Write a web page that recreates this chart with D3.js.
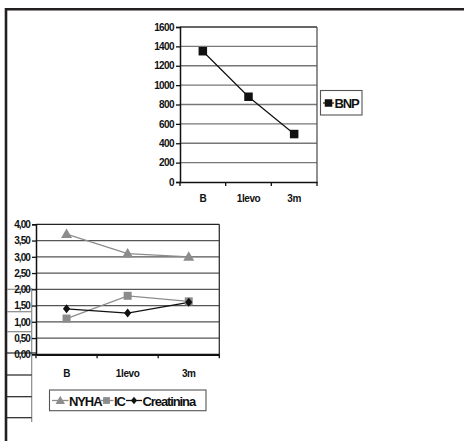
<!DOCTYPE html>
<html>
<head>
<meta charset="utf-8">
<script src="https://cdn.jsdelivr.net/npm/d3@7"></script>
<style>
  html, body { margin: 0; padding: 0; background: #fff; }
  svg { display: block; }
  text { font-family: "Liberation Sans Narrow", "Arial Narrow", "Liberation Sans", Arial, sans-serif; font-weight: bold; fill: #111; }
</style>
</head>
<body>
<svg id="chart" width="464" height="441"></svg>
<script>
// ---- data ----
const categories = ["B", "1levo", "3m"];

const bnpValues = [1350, 880, 495];
const bnpTicks = [0, 200, 400, 600, 800, 1000, 1200, 1400, 1600];

const nyhaValues = [3.70, 3.10, 3.00];
const icValues = [1.10, 1.80, 1.63];
const creatininaValues = [1.40, 1.27, 1.60];
const scoreTicks = [0, 0.5, 1, 1.5, 2, 2.5, 3, 3.5, 4];

const svg = d3.select("#chart");

// ---- outer frame (top and left edges) ----
svg.append("path")
  .attr("d", "M6,441V9.2H464")
  .attr("fill", "none").attr("stroke", "#231f20").attr("stroke-width", 2.6);

// ---- table cells left of the lower chart ----
const cellRows = [289.3, 311.7, 331.7, 353, 375, 396.7, 417.7];
const cells = svg.append("g");
cells.append("line").attr("x1", 31.7).attr("x2", 31.7).attr("y1", 288).attr("y2", 422)
  .attr("stroke", "#8a8a8a").attr("stroke-width", 1.2);
cellRows.forEach((y, i) => {
  cells.append("line")
    .attr("x1", 7).attr("x2", (i === 0 || i === 3) ? 36 : 31.7)
    .attr("y1", y).attr("y2", y)
    .attr("stroke", i < 3 ? "#8a8a8a" : "#222").attr("stroke-width", 1.2);
});

// helper to draw marker shapes
function marker(g, type, cx, cy, color, size) {
  if (type === "square") {
    g.append("rect").attr("x", cx - size / 2).attr("y", cy - size / 2)
      .attr("width", size).attr("height", size).attr("fill", color);
  } else if (type === "triangle") {
    g.append("path")
      .attr("d", `M${cx},${cy - size * 0.55}L${cx + size * 0.55},${cy + size * 0.4}L${cx - size * 0.55},${cy + size * 0.4}Z`)
      .attr("fill", color);
  } else if (type === "diamond") {
    g.append("path")
      .attr("d", `M${cx},${cy - size / 2}L${cx + size * 0.4},${cy}L${cx},${cy + size / 2}L${cx - size * 0.4},${cy}Z`)
      .attr("fill", color);
  }
}

// ---- upper chart: BNP ----
{
  const left = 180, right = 317, top = 27, bottom = 182;
  const x = d3.scaleBand().domain(categories).range([left, right]).padding(0);
  const y = d3.scaleLinear().domain([0, 1600]).range([bottom, top]);
  const g = svg.append("g");

  // gridlines
  g.selectAll("line.grid").data(bnpTicks.filter(t => t > 0)).join("line")
    .attr("x1", left).attr("x2", right)
    .attr("y1", d => y(d)).attr("y2", d => y(d))
    .attr("stroke", d => d === 1600 ? "#333" : "#777").attr("stroke-width", 1.3);
  g.append("line").attr("x1", right).attr("x2", right).attr("y1", top).attr("y2", bottom)
    .attr("stroke", "#555").attr("stroke-width", 1.3);

  // y axis
  const ya = g.append("g").attr("transform", `translate(${left},0)`)
    .call(d3.axisLeft(y).tickValues(bnpTicks).tickSize(4).tickPadding(2).tickFormat(d3.format("d")));
  ya.select(".domain").attr("stroke", "#111").attr("stroke-width", 1.5);
  ya.selectAll(".tick line").attr("stroke", "#111").attr("stroke-width", 1.3);
  ya.selectAll("text").attr("font-size", 10).attr("letter-spacing", -0.6).attr("fill", "#111");

  // x axis
  const xa = g.append("g").attr("transform", `translate(0,${bottom})`)
    .call(d3.axisBottom(x).tickSize(0).tickPadding(13));
  xa.select(".domain").attr("stroke", "#111").attr("stroke-width", 1.5);
  xa.selectAll("text").attr("font-size", 10).attr("letter-spacing", -0.4).attr("fill", "#111");
  const bounds = [left, ...categories.map(c => x(c) + x.bandwidth())];
  g.selectAll("line.xt").data(bounds).join("line")
    .attr("x1", d => d).attr("x2", d => d).attr("y1", bottom).attr("y2", bottom + 4)
    .attr("stroke", "#111").attr("stroke-width", 1.3);

  // series
  const cx = c => x(c) + x.bandwidth() / 2;
  g.append("path")
    .attr("d", d3.line().x((d, i) => cx(categories[i])).y(d => y(d))(bnpValues))
    .attr("fill", "none").attr("stroke", "#111").attr("stroke-width", 1.2);
  bnpValues.forEach((v, i) => marker(g, "square", cx(categories[i]), y(v), "#111", 8.5));

  // legend
  const lg = svg.append("g");
  lg.append("rect").attr("x", 320.5).attr("y", 90.5).attr("width", 41.5).attr("height", 24.5)
    .attr("fill", "#fff").attr("stroke", "#555").attr("stroke-width", 1.1);
  lg.append("line").attr("x1", 323).attr("x2", 334).attr("y1", 103).attr("y2", 103)
    .attr("stroke", "#111").attr("stroke-width", 1.2);
  marker(lg, "square", 328.5, 103, "#111", 7.5);
  lg.append("text").attr("x", 334.5).attr("y", 107.5).attr("font-size", 13)
    .attr("letter-spacing", -1.1).text("BNP");
}

// ---- lower chart: NYHA, IC, Creatinina ----
{
  const left = 36, right = 219.3, top = 224.3, bottom = 354.3;
  const x = d3.scaleBand().domain(categories).range([left, right]).padding(0);
  const y = d3.scaleLinear().domain([0, 4]).range([bottom, top]);
  const g = svg.append("g");

  g.selectAll("line.grid").data(scoreTicks.filter(t => t > 0)).join("line")
    .attr("x1", left).attr("x2", right)
    .attr("y1", d => y(d)).attr("y2", d => y(d))
    .attr("stroke", d => d === 4 ? "#222" : "#555").attr("stroke-width", 1.3);
  g.append("line").attr("x1", right).attr("x2", right).attr("y1", top).attr("y2", bottom)
    .attr("stroke", "#333").attr("stroke-width", 1.3);

  const fmt = v => d3.format(".2f")(v).replace(".", ",");
  const ya = g.append("g").attr("transform", `translate(${left},0)`)
    .call(d3.axisLeft(y).tickValues(scoreTicks).tickSize(4).tickPadding(2).tickFormat(fmt));
  ya.select(".domain").attr("stroke", "#111").attr("stroke-width", 1.5);
  ya.selectAll(".tick line").attr("stroke", "#111").attr("stroke-width", 1.3);
  ya.selectAll("text").attr("font-size", 10).attr("letter-spacing", -0.9).attr("fill", "#111");

  const xa = g.append("g").attr("transform", `translate(0,${bottom})`)
    .call(d3.axisBottom(x).tickSize(0).tickPadding(16));
  xa.select(".domain").attr("stroke", "#111").attr("stroke-width", 2.2);
  xa.selectAll("text").attr("font-size", 10).attr("letter-spacing", -0.4).attr("fill", "#111");
  const bounds = [left, ...categories.map(c => x(c) + x.bandwidth())];
  g.selectAll("line.xt").data(bounds).join("line")
    .attr("x1", d => d).attr("x2", d => d).attr("y1", bottom).attr("y2", bottom + 4)
    .attr("stroke", "#111").attr("stroke-width", 1.3);

  const cx = c => x(c) + x.bandwidth() / 2;
  const series = [
    { values: nyhaValues, color: "#8c8c8c", shape: "triangle", size: 10 },
    { values: icValues, color: "#8c8c8c", shape: "square", size: 8 },
    { values: creatininaValues, color: "#111", shape: "diamond", size: 9 }
  ];
  series.forEach(s => {
    g.append("path")
      .attr("d", d3.line().x((d, i) => cx(categories[i])).y(d => y(d))(s.values))
      .attr("fill", "none").attr("stroke", s.color).attr("stroke-width", 1.3);
  });
  series.forEach(s => {
    s.values.forEach((v, i) => marker(g, s.shape, cx(categories[i]), y(v), s.color, s.size));
  });

  // legend
  const lg = svg.append("g");
  lg.append("rect").attr("x", 49.5).attr("y", 390).attr("width", 156.5).attr("height", 20.7)
    .attr("fill", "#fff").attr("stroke", "#555").attr("stroke-width", 1.1);
  const items = [
    { name: "NYHA", s: series[0], lx: 52, tx: 68.5 },
    { name: "IC", s: series[1], lx: 99.5, tx: 113.5 },
    { name: "Creatinina", s: series[2], lx: 126, tx: 142 }
  ];
  items.forEach(it => {
    lg.append("line").attr("x1", it.lx).attr("x2", it.tx).attr("y1", 400.5).attr("y2", 400.5)
      .attr("stroke", it.s.color).attr("stroke-width", 1.3);
    marker(lg, it.s.shape, (it.lx + it.tx) / 2, 400.5, it.s.color, it.s.size * 0.85);
    lg.append("text").attr("x", it.tx + 0.5).attr("y", 405.5).attr("font-size", 13)
      .attr("letter-spacing", -1.1).text(it.name);
  });
}
</script>
</body>
</html>
